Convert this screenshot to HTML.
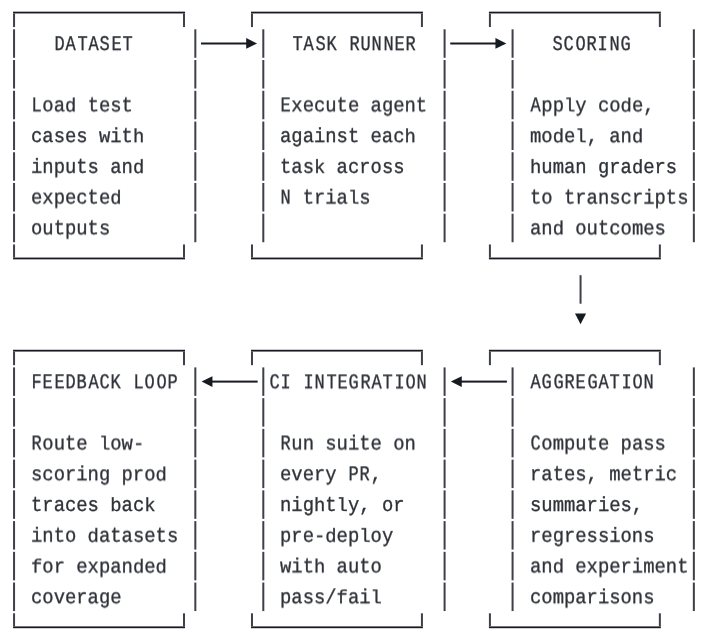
<!DOCTYPE html>
<html><head><meta charset="utf-8"><style>
html,body{margin:0;padding:0;background:#fff;}
body{width:707px;height:639px;overflow:hidden;position:relative;}
svg{position:absolute;left:0;top:0;}
.t{position:absolute;white-space:pre;font-family:"Liberation Mono",monospace;text-rendering:geometricPrecision;font-size:18.88px;line-height:30px;color:#2e3138;-webkit-text-stroke:0.3px #2e3138;transform-origin:0 20.0px;will-change:transform;}
.t span{display:inline-block;transform:scale(0.9,1.027);transform-origin:50% 20.0px;}
.t.h span{transform:scale(0.9,1);}
.t span.a{transform:scaleY(0.935);}
.t span.tt{transform:scaleY(1.03);}
</style></head><body>
<svg width="707" height="639" viewBox="0 0 707 639">
<g fill="#181b23"><rect x="13.05" y="11.66" width="171.95" height="1.80"/><rect fill="#3d4047" x="13.05" y="13.46" width="2.00" height="13.60"/><rect fill="#3d4047" x="183.00" y="13.46" width="2.00" height="13.60"/><rect x="13.05" y="257.56" width="171.95" height="1.80"/><rect fill="#3d4047" x="13.05" y="244.46" width="2.00" height="13.10"/><rect fill="#3d4047" x="183.00" y="244.46" width="2.00" height="13.10"/><rect fill="#3d4047" x="13.05" y="29.30" width="2.00" height="28.50"/><rect fill="#3d4047" x="194.33" y="29.30" width="2.00" height="28.50"/><rect fill="#3d4047" x="13.05" y="60.03" width="2.00" height="28.50"/><rect fill="#3d4047" x="194.33" y="60.03" width="2.00" height="28.50"/><rect fill="#3d4047" x="13.05" y="90.77" width="2.00" height="28.50"/><rect fill="#3d4047" x="194.33" y="90.77" width="2.00" height="28.50"/><rect fill="#3d4047" x="13.05" y="121.51" width="2.00" height="28.50"/><rect fill="#3d4047" x="194.33" y="121.51" width="2.00" height="28.50"/><rect fill="#3d4047" x="13.05" y="152.25" width="2.00" height="28.50"/><rect fill="#3d4047" x="194.33" y="152.25" width="2.00" height="28.50"/><rect fill="#3d4047" x="13.05" y="182.98" width="2.00" height="28.50"/><rect fill="#3d4047" x="194.33" y="182.98" width="2.00" height="28.50"/><rect fill="#3d4047" x="13.05" y="213.72" width="2.00" height="28.50"/><rect fill="#3d4047" x="194.33" y="213.72" width="2.00" height="28.50"/><rect x="13.05" y="349.77" width="171.95" height="1.80"/><rect fill="#3d4047" x="13.05" y="351.57" width="2.00" height="13.60"/><rect fill="#3d4047" x="183.00" y="351.57" width="2.00" height="13.60"/><rect x="13.05" y="626.40" width="171.95" height="1.80"/><rect fill="#3d4047" x="13.05" y="613.30" width="2.00" height="13.10"/><rect fill="#3d4047" x="183.00" y="613.30" width="2.00" height="13.10"/><rect fill="#3d4047" x="13.05" y="367.40" width="2.00" height="28.50"/><rect fill="#3d4047" x="194.33" y="367.40" width="2.00" height="28.50"/><rect fill="#3d4047" x="13.05" y="398.14" width="2.00" height="28.50"/><rect fill="#3d4047" x="194.33" y="398.14" width="2.00" height="28.50"/><rect fill="#3d4047" x="13.05" y="428.88" width="2.00" height="28.50"/><rect fill="#3d4047" x="194.33" y="428.88" width="2.00" height="28.50"/><rect fill="#3d4047" x="13.05" y="459.61" width="2.00" height="28.50"/><rect fill="#3d4047" x="194.33" y="459.61" width="2.00" height="28.50"/><rect fill="#3d4047" x="13.05" y="490.35" width="2.00" height="28.50"/><rect fill="#3d4047" x="194.33" y="490.35" width="2.00" height="28.50"/><rect fill="#3d4047" x="13.05" y="521.09" width="2.00" height="28.50"/><rect fill="#3d4047" x="194.33" y="521.09" width="2.00" height="28.50"/><rect fill="#3d4047" x="13.05" y="551.83" width="2.00" height="28.50"/><rect fill="#3d4047" x="194.33" y="551.83" width="2.00" height="28.50"/><rect fill="#3d4047" x="13.05" y="582.56" width="2.00" height="28.50"/><rect fill="#3d4047" x="194.33" y="582.56" width="2.00" height="28.50"/><rect x="250.98" y="11.66" width="171.95" height="1.80"/><rect fill="#3d4047" x="250.98" y="13.46" width="2.00" height="13.60"/><rect fill="#3d4047" x="420.93" y="13.46" width="2.00" height="13.60"/><rect x="250.98" y="257.56" width="171.95" height="1.80"/><rect fill="#3d4047" x="250.98" y="244.46" width="2.00" height="13.10"/><rect fill="#3d4047" x="420.93" y="244.46" width="2.00" height="13.10"/><rect fill="#3d4047" x="262.31" y="29.30" width="2.00" height="28.50"/><rect fill="#3d4047" x="443.59" y="29.30" width="2.00" height="28.50"/><rect fill="#3d4047" x="262.31" y="60.03" width="2.00" height="28.50"/><rect fill="#3d4047" x="443.59" y="60.03" width="2.00" height="28.50"/><rect fill="#3d4047" x="262.31" y="90.77" width="2.00" height="28.50"/><rect fill="#3d4047" x="443.59" y="90.77" width="2.00" height="28.50"/><rect fill="#3d4047" x="262.31" y="121.51" width="2.00" height="28.50"/><rect fill="#3d4047" x="443.59" y="121.51" width="2.00" height="28.50"/><rect fill="#3d4047" x="262.31" y="152.25" width="2.00" height="28.50"/><rect fill="#3d4047" x="443.59" y="152.25" width="2.00" height="28.50"/><rect fill="#3d4047" x="262.31" y="182.98" width="2.00" height="28.50"/><rect fill="#3d4047" x="443.59" y="182.98" width="2.00" height="28.50"/><rect fill="#3d4047" x="262.31" y="213.72" width="2.00" height="28.50"/><rect fill="#3d4047" x="443.59" y="213.72" width="2.00" height="28.50"/><rect x="250.98" y="349.77" width="171.95" height="1.80"/><rect fill="#3d4047" x="250.98" y="351.57" width="2.00" height="13.60"/><rect fill="#3d4047" x="420.93" y="351.57" width="2.00" height="13.60"/><rect x="250.98" y="626.40" width="171.95" height="1.80"/><rect fill="#3d4047" x="250.98" y="613.30" width="2.00" height="13.10"/><rect fill="#3d4047" x="420.93" y="613.30" width="2.00" height="13.10"/><rect fill="#3d4047" x="262.31" y="367.40" width="2.00" height="28.50"/><rect fill="#3d4047" x="443.59" y="367.40" width="2.00" height="28.50"/><rect fill="#3d4047" x="262.31" y="398.14" width="2.00" height="28.50"/><rect fill="#3d4047" x="443.59" y="398.14" width="2.00" height="28.50"/><rect fill="#3d4047" x="262.31" y="428.88" width="2.00" height="28.50"/><rect fill="#3d4047" x="443.59" y="428.88" width="2.00" height="28.50"/><rect fill="#3d4047" x="262.31" y="459.61" width="2.00" height="28.50"/><rect fill="#3d4047" x="443.59" y="459.61" width="2.00" height="28.50"/><rect fill="#3d4047" x="262.31" y="490.35" width="2.00" height="28.50"/><rect fill="#3d4047" x="443.59" y="490.35" width="2.00" height="28.50"/><rect fill="#3d4047" x="262.31" y="521.09" width="2.00" height="28.50"/><rect fill="#3d4047" x="443.59" y="521.09" width="2.00" height="28.50"/><rect fill="#3d4047" x="262.31" y="551.83" width="2.00" height="28.50"/><rect fill="#3d4047" x="443.59" y="551.83" width="2.00" height="28.50"/><rect fill="#3d4047" x="262.31" y="582.56" width="2.00" height="28.50"/><rect fill="#3d4047" x="443.59" y="582.56" width="2.00" height="28.50"/><rect x="488.91" y="11.66" width="171.95" height="1.80"/><rect fill="#3d4047" x="488.91" y="13.46" width="2.00" height="13.60"/><rect fill="#3d4047" x="658.86" y="13.46" width="2.00" height="13.60"/><rect x="488.91" y="257.56" width="171.95" height="1.80"/><rect fill="#3d4047" x="488.91" y="244.46" width="2.00" height="13.10"/><rect fill="#3d4047" x="658.86" y="244.46" width="2.00" height="13.10"/><rect fill="#3d4047" x="511.57" y="29.30" width="2.00" height="28.50"/><rect fill="#3d4047" x="692.85" y="29.30" width="2.00" height="28.50"/><rect fill="#3d4047" x="511.57" y="60.03" width="2.00" height="28.50"/><rect fill="#3d4047" x="692.85" y="60.03" width="2.00" height="28.50"/><rect fill="#3d4047" x="511.57" y="90.77" width="2.00" height="28.50"/><rect fill="#3d4047" x="692.85" y="90.77" width="2.00" height="28.50"/><rect fill="#3d4047" x="511.57" y="121.51" width="2.00" height="28.50"/><rect fill="#3d4047" x="692.85" y="121.51" width="2.00" height="28.50"/><rect fill="#3d4047" x="511.57" y="152.25" width="2.00" height="28.50"/><rect fill="#3d4047" x="692.85" y="152.25" width="2.00" height="28.50"/><rect fill="#3d4047" x="511.57" y="182.98" width="2.00" height="28.50"/><rect fill="#3d4047" x="692.85" y="182.98" width="2.00" height="28.50"/><rect fill="#3d4047" x="511.57" y="213.72" width="2.00" height="28.50"/><rect fill="#3d4047" x="692.85" y="213.72" width="2.00" height="28.50"/><rect x="488.91" y="349.77" width="171.95" height="1.80"/><rect fill="#3d4047" x="488.91" y="351.57" width="2.00" height="13.60"/><rect fill="#3d4047" x="658.86" y="351.57" width="2.00" height="13.60"/><rect x="488.91" y="626.40" width="171.95" height="1.80"/><rect fill="#3d4047" x="488.91" y="613.30" width="2.00" height="13.10"/><rect fill="#3d4047" x="658.86" y="613.30" width="2.00" height="13.10"/><rect fill="#3d4047" x="511.57" y="367.40" width="2.00" height="28.50"/><rect fill="#3d4047" x="692.85" y="367.40" width="2.00" height="28.50"/><rect fill="#3d4047" x="511.57" y="398.14" width="2.00" height="28.50"/><rect fill="#3d4047" x="692.85" y="398.14" width="2.00" height="28.50"/><rect fill="#3d4047" x="511.57" y="428.88" width="2.00" height="28.50"/><rect fill="#3d4047" x="692.85" y="428.88" width="2.00" height="28.50"/><rect fill="#3d4047" x="511.57" y="459.61" width="2.00" height="28.50"/><rect fill="#3d4047" x="692.85" y="459.61" width="2.00" height="28.50"/><rect fill="#3d4047" x="511.57" y="490.35" width="2.00" height="28.50"/><rect fill="#3d4047" x="692.85" y="490.35" width="2.00" height="28.50"/><rect fill="#3d4047" x="511.57" y="521.09" width="2.00" height="28.50"/><rect fill="#3d4047" x="692.85" y="521.09" width="2.00" height="28.50"/><rect fill="#3d4047" x="511.57" y="551.83" width="2.00" height="28.50"/><rect fill="#3d4047" x="692.85" y="551.83" width="2.00" height="28.50"/><rect fill="#3d4047" x="511.57" y="582.56" width="2.00" height="28.50"/><rect fill="#3d4047" x="692.85" y="582.56" width="2.00" height="28.50"/><rect x="201.00" y="42.50" width="46.98" height="2.00"/><rect x="450.25" y="42.50" width="46.99" height="2.00"/><rect x="210.66" y="380.60" width="46.99" height="2.00"/><rect x="459.92" y="380.60" width="46.99" height="2.00"/><rect fill="#3d4047" x="579.55" y="275.19" width="2.00" height="28.50"/></g>
<g fill="#161a21"><polygon points="246.18,38.05 257.08,43.45 246.18,48.85"/><polygon points="495.44,38.05 506.34,43.45 495.44,48.85"/><polygon points="212.46,376.15 201.56,381.55 212.46,386.95"/><polygon points="461.72,376.15 450.82,381.55 461.72,386.95"/><polygon points="575.00,313.6 586.10,313.6 580.55,324.2"/></g>
</svg>
<div class="t h" style="left:53.71px;top:30px;transform:translateY(0.347px) rotate(0.05deg) scaleY(1.109)"><span>D</span><span>A</span><span>T</span><span>A</span><span>S</span><span>E</span><span>T</span></div>
<div class="t h" style="left:291.63px;top:30px;transform:translateY(0.347px) rotate(0.05deg) scaleY(1.109)"><span>T</span><span>A</span><span>S</span><span>K</span> <span>R</span><span>U</span><span>N</span><span>N</span><span>E</span><span>R</span></div>
<div class="t h" style="left:552.23px;top:30px;transform:translateY(0.347px) rotate(0.05deg) scaleY(1.109)"><span>S</span><span>C</span><span>O</span><span>R</span><span>I</span><span>N</span><span>G</span></div>
<div class="t" style="left:31.05px;top:91px;transform:translateY(0.021px) rotate(0.05deg) scaleY(1.08)"><span>L</span>oa<span class="a">d</span> <span class="tt">t</span>es<span class="tt">t</span></div>
<div class="t" style="left:280.31px;top:91px;transform:translateY(0.021px) rotate(0.05deg) scaleY(1.08)"><span>E</span>xecu<span class="tt">t</span>e agen<span class="tt">t</span></div>
<div class="t" style="left:529.56px;top:91px;transform:translateY(0.021px) rotate(0.05deg) scaleY(1.08)"><span>A</span>pp<span class="a">l</span>y co<span class="a">d</span>e,</div>
<div class="t" style="left:31.05px;top:121px;transform:translateY(0.758px) rotate(0.05deg) scaleY(1.08)">cases wi<span class="tt">t</span><span class="a">h</span></div>
<div class="t" style="left:280.31px;top:121px;transform:translateY(0.758px) rotate(0.05deg) scaleY(1.08)">agains<span class="tt">t</span> eac<span class="a">h</span></div>
<div class="t" style="left:529.56px;top:121px;transform:translateY(0.758px) rotate(0.05deg) scaleY(1.08)">mo<span class="a">d</span>e<span class="a">l</span>, an<span class="a">d</span></div>
<div class="t" style="left:31.05px;top:152px;transform:translateY(0.495px) rotate(0.05deg) scaleY(1.08)">inpu<span class="tt">t</span>s an<span class="a">d</span></div>
<div class="t" style="left:280.31px;top:152px;transform:translateY(0.495px) rotate(0.05deg) scaleY(1.08)"><span class="tt">t</span>as<span class="a">k</span> across</div>
<div class="t" style="left:529.56px;top:152px;transform:translateY(0.495px) rotate(0.05deg) scaleY(1.08)"><span class="a">h</span>uman gra<span class="a">d</span>ers</div>
<div class="t" style="left:31.05px;top:183px;transform:translateY(0.232px) rotate(0.05deg) scaleY(1.08)">expec<span class="tt">t</span>e<span class="a">d</span></div>
<div class="t" style="left:280.31px;top:183px;transform:translateY(0.232px) rotate(0.05deg) scaleY(1.08)"><span>N</span> <span class="tt">t</span>ria<span class="a">l</span>s</div>
<div class="t" style="left:529.56px;top:183px;transform:translateY(0.232px) rotate(0.05deg) scaleY(1.08)"><span class="tt">t</span>o <span class="tt">t</span>ranscrip<span class="tt">t</span>s</div>
<div class="t" style="left:31.05px;top:213px;transform:translateY(0.969px) rotate(0.05deg) scaleY(1.08)">ou<span class="tt">t</span>pu<span class="tt">t</span>s</div>
<div class="t" style="left:529.56px;top:213px;transform:translateY(0.969px) rotate(0.05deg) scaleY(1.08)">an<span class="a">d</span> ou<span class="tt">t</span>comes</div>
<div class="t h" style="left:31.05px;top:368px;transform:translateY(0.454px) rotate(0.05deg) scaleY(1.109)"><span>F</span><span>E</span><span>E</span><span>D</span><span>B</span><span>A</span><span>C</span><span>K</span> <span>L</span><span>O</span><span>O</span><span>P</span></div>
<div class="t h" style="left:268.97px;top:368px;transform:translateY(0.454px) rotate(0.05deg) scaleY(1.109)"><span>C</span><span>I</span> <span>I</span><span>N</span><span>T</span><span>E</span><span>G</span><span>R</span><span>A</span><span>T</span><span>I</span><span>O</span><span>N</span></div>
<div class="t h" style="left:529.56px;top:368px;transform:translateY(0.454px) rotate(0.05deg) scaleY(1.109)"><span>A</span><span>G</span><span>G</span><span>R</span><span>E</span><span>G</span><span>A</span><span>T</span><span>I</span><span>O</span><span>N</span></div>
<div class="t" style="left:31.05px;top:429px;transform:translateY(0.128px) rotate(0.05deg) scaleY(1.08)"><span>R</span>ou<span class="tt">t</span>e <span class="a">l</span>ow-</div>
<div class="t" style="left:280.31px;top:429px;transform:translateY(0.128px) rotate(0.05deg) scaleY(1.08)"><span>R</span>un sui<span class="tt">t</span>e on</div>
<div class="t" style="left:529.56px;top:429px;transform:translateY(0.128px) rotate(0.05deg) scaleY(1.08)"><span>C</span>ompu<span class="tt">t</span>e pass</div>
<div class="t" style="left:31.05px;top:459px;transform:translateY(0.865px) rotate(0.05deg) scaleY(1.08)">scoring pro<span class="a">d</span></div>
<div class="t" style="left:280.31px;top:459px;transform:translateY(0.865px) rotate(0.05deg) scaleY(1.08)">every <span>P</span><span>R</span>,</div>
<div class="t" style="left:529.56px;top:459px;transform:translateY(0.865px) rotate(0.05deg) scaleY(1.08)">ra<span class="tt">t</span>es, me<span class="tt">t</span>ric</div>
<div class="t" style="left:31.05px;top:490px;transform:translateY(0.602px) rotate(0.05deg) scaleY(1.08)"><span class="tt">t</span>races <span class="a">b</span>ac<span class="a">k</span></div>
<div class="t" style="left:280.31px;top:490px;transform:translateY(0.602px) rotate(0.05deg) scaleY(1.08)">nig<span class="a">h</span><span class="tt">t</span><span class="a">l</span>y, or</div>
<div class="t" style="left:529.56px;top:490px;transform:translateY(0.602px) rotate(0.05deg) scaleY(1.08)">summaries,</div>
<div class="t" style="left:31.05px;top:521px;transform:translateY(0.339px) rotate(0.05deg) scaleY(1.08)">in<span class="tt">t</span>o <span class="a">d</span>a<span class="tt">t</span>ase<span class="tt">t</span>s</div>
<div class="t" style="left:280.31px;top:521px;transform:translateY(0.339px) rotate(0.05deg) scaleY(1.08)">pre-<span class="a">d</span>ep<span class="a">l</span>oy</div>
<div class="t" style="left:529.56px;top:521px;transform:translateY(0.339px) rotate(0.05deg) scaleY(1.08)">regressions</div>
<div class="t" style="left:31.05px;top:552px;transform:translateY(0.076px) rotate(0.05deg) scaleY(1.08)"><span class="a">f</span>or expan<span class="a">d</span>e<span class="a">d</span></div>
<div class="t" style="left:280.31px;top:552px;transform:translateY(0.076px) rotate(0.05deg) scaleY(1.08)">wi<span class="tt">t</span><span class="a">h</span> au<span class="tt">t</span>o</div>
<div class="t" style="left:529.56px;top:552px;transform:translateY(0.076px) rotate(0.05deg) scaleY(1.08)">an<span class="a">d</span> experimen<span class="tt">t</span></div>
<div class="t" style="left:31.05px;top:582px;transform:translateY(0.813px) rotate(0.05deg) scaleY(1.08)">coverage</div>
<div class="t" style="left:280.31px;top:582px;transform:translateY(0.813px) rotate(0.05deg) scaleY(1.08)">pass/<span class="a">f</span>ai<span class="a">l</span></div>
<div class="t" style="left:529.56px;top:582px;transform:translateY(0.813px) rotate(0.05deg) scaleY(1.08)">comparisons</div>
</body></html>
